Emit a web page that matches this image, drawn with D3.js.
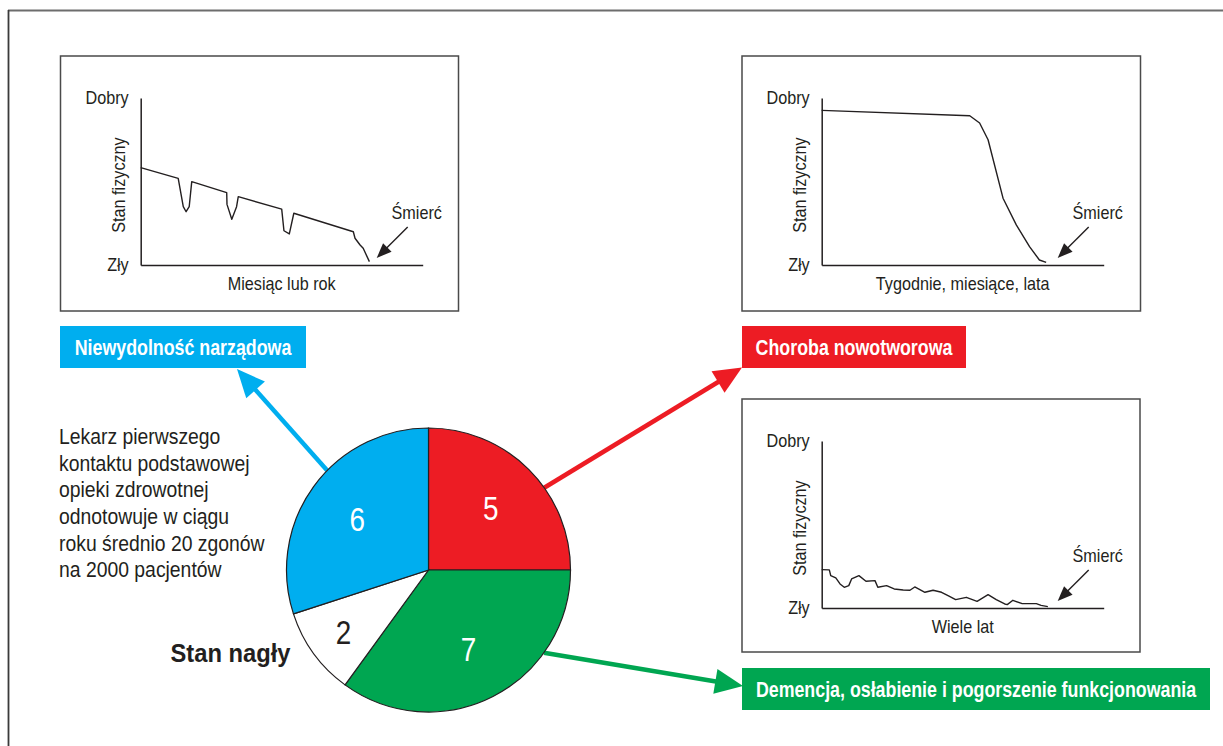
<!DOCTYPE html>
<html>
<head>
<meta charset="utf-8">
<script src="https://cdn.jsdelivr.net/npm/d3@7/dist/d3.min.js"></script>
<style>
  html, body { margin: 0; padding: 0; background: #ffffff; }
  svg { display: block; }
</style>
</head>
<body>
<div id="chart"></div>
<script>
// ---------------- DATA ----------------
// Pie: deaths per year per 2000 patients by trajectory
const pieCategories = ["Choroba nowotworowa", "Demencja, osłabienie i pogorszenie funkcjonowania", "Stan nagły", "Niewydolność narządowa"];
const pieValues = [5, 7, 2, 6];
const pieColors = ["#ed1c24", "#00a651", "#ffffff", "#00aeef"];

// Trajectory curves (time 0-100, physical state 0-100)
const organTime  = [0, 13.3, 15.1, 16.1, 17.2, 18.1, 30.5, 30.6, 32.3, 34.0, 34.6, 50.0, 50.8, 52.7, 54.3, 75.4, 76.0, 77.8, 78.9, 81.1];
const organState = [58.3, 51.9, 34.9, 31.9, 34.9, 49.9, 43.3, 36.3, 27.4, 34.9, 40.9, 33.5, 20.5, 18.6, 31.0, 19.9, 16.0, 12.0, 10.0, 2.0];

const cancerTime  = [0, 52.5, 56.0, 59.0, 64.3, 69.0, 73.7, 77.2, 79.6];
const cancerState = [92.6, 89.4, 85.0, 75.0, 40.0, 24.0, 11.0, 3.0, 1.6];

const frailtyTime  = [0, 2.7, 3.2, 5.0, 6.5, 8.0, 9.6, 10.6, 13.2, 15.7, 18.9, 19.9, 23.0, 25.7, 28.9, 31.3, 33.0, 36.6, 39.5, 42.5, 44.8, 47.5, 51.3, 55.1, 59.0, 61.9, 64.9, 65.8, 67.8, 71.1, 76.1, 77.8, 80.2];
const frailtyState = [23, 22.8, 19.4, 18, 14.4, 12.4, 13.4, 17.4, 19.4, 16, 16.4, 12.4, 13.4, 11.4, 10.8, 10.6, 12.6, 9.4, 10.6, 9.4, 7.4, 5, 6.4, 4, 8, 5, 2.4, 2, 4.6, 2.6, 2.6, 1.6, 0.8];

const yTickValues = [0, 100];
const yTickLabels = ["Zły", "Dobry"];
const yAxisTitle = "Stan fizyczny";
const xAxisTitles = ["Miesiąc lub rok", "Tygodnie, miesiące, lata", "Wiele lat"];
const deathLabel = "Śmierć";
const noteLines = ["Lekarz pierwszego", "kontaktu podstawowej", "opieki zdrowotnej", "odnotowuje w ciągu", "roku średnio 20 zgonów", "na 2000 pacjentów"];

// ---------------- LAYOUT ----------------
const W = 1223, H = 746;
const SANS = "'Liberation Sans', Arial, Helvetica, sans-serif";
const SQ = 0.82;            // horizontal squeeze to imitate a condensed face
const INK = "#231f20";

const svg = d3.select("#chart").append("svg")
  .attr("width", W).attr("height", H)
  .attr("viewBox", `0 0 ${W} ${H}`);

// outer frame
svg.append("line").attr("x1", 8).attr("x2", W).attr("y1", 10.5).attr("y2", 10.5)
  .attr("stroke", "#6d6d6d").attr("stroke-width", 2);
svg.append("line").attr("x1", 8.5).attr("x2", 8.5).attr("y1", 10).attr("y2", H)
  .attr("stroke", "#3a3a3a").attr("stroke-width", 1.8);

const arrowLayer = svg.append("g");

// condensed text helper
function ntext(parent, x, y, str, size, opt = {}) {
  const g = parent.append("g").attr("transform", `translate(${x},${y})${opt.rotate ? ` rotate(${opt.rotate})` : ""} scale(${opt.sq || SQ},1)`);
  return g.append("text")
    .attr("text-anchor", opt.anchor || "start")
    .attr("dy", opt.dy || null)
    .attr("font-family", SANS).attr("font-size", size)
    .attr("font-weight", opt.bold ? "bold" : null)
    .attr("fill", opt.fill || INK)
    .text(str);
}

function arrow(g, x1, y1, x2, y2, color, width, headLen, headW) {
  const dx = x2 - x1, dy = y2 - y1, len = Math.hypot(dx, dy);
  const ux = dx / len, uy = dy / len, px = -uy, py = ux;
  const bx = x2 - ux * headLen, by = y2 - uy * headLen;
  g.append("line").attr("x1", x1).attr("y1", y1).attr("x2", bx + ux * 2).attr("y2", by + uy * 2)
    .attr("stroke", color).attr("stroke-width", width);
  g.append("polygon")
    .attr("points", [[x2, y2], [bx + px * headW / 2, by + py * headW / 2], [bx - px * headW / 2, by - py * headW / 2]].map(p => p.join(",")).join(" "))
    .attr("fill", color);
}

// ---------------- TRAJECTORY PANELS ----------------
const panels = [
  { box: [60.5, 56, 398, 255], ox: 140.7, oy: 265, title: xAxisTitles[0], t: organTime, s: organState },
  { box: [742, 56, 398.5, 255], ox: 821.7, oy: 265, title: xAxisTitles[1], t: cancerTime, s: cancerState },
  { box: [742, 399, 398, 253], ox: 821.7, oy: 608, title: xAxisTitles[2], t: frailtyTime, s: frailtyState }
];
const axisW = 282, axisH = 167;
const PF = 18, PSQ = 0.9;

panels.forEach(p => {
  const g = svg.append("g");
  g.append("rect").attr("x", p.box[0]).attr("y", p.box[1]).attr("width", p.box[2]).attr("height", p.box[3])
    .attr("fill", "#fff").attr("stroke", "#4a4a4a").attr("stroke-width", 1.5);

  const x = d3.scaleLinear().domain([0, 100]).range([p.ox, p.ox + axisW]);
  const y = d3.scaleLinear().domain([0, 100]).range([p.oy, p.oy - axisH]);

  const ya = g.append("g").attr("transform", `translate(${p.ox},0)`)
    .call(d3.axisLeft(y).tickValues(yTickValues).tickSize(0).tickSizeOuter(0).tickPadding(12)
      .tickFormat((d, i) => yTickLabels[i]));
  ya.select(".domain").attr("stroke", INK).attr("stroke-width", 1.5);
  ya.selectAll(".tick text")
    .attr("font-family", SANS).attr("font-size", PF).attr("fill", INK)
    .attr("x", -12 / PSQ).attr("transform", `scale(${PSQ},1)`);

  const xa = g.append("g").attr("transform", `translate(0,${p.oy})`)
    .call(d3.axisBottom(x).tickValues([]).tickSizeOuter(0));
  xa.select(".domain").attr("stroke", INK).attr("stroke-width", 1.5);

  ntext(g, (x.range()[0] + x.range()[1]) / 2, p.oy + 25, p.title, PF, { anchor: "middle", sq: PSQ });
  ntext(g, p.ox - 16, p.oy - 80, yAxisTitle, PF, { anchor: "middle", rotate: -90, sq: PSQ });

  const pts = p.t.map((t, i) => [t, p.s[i]]);
  g.append("path").datum(pts)
    .attr("d", d3.line().x(d => x(d[0])).y(d => y(d[1])))
    .attr("fill", "none").attr("stroke", INK).attr("stroke-width", 1.4).attr("stroke-linejoin", "round");

  ntext(g, p.ox + 276, p.oy - 46, deathLabel, PF, { anchor: "middle", sq: PSQ });
  arrow(g, p.ox + 267, p.oy - 38, p.ox + 236, p.oy - 7, INK, 1.4, 15, 12);
});

// ---------------- PIE ----------------
const cx = 428.5, cy = 570, r = 142;
const pie = d3.pie().sort(null).value(d => d)(pieValues);
const arc = d3.arc().innerRadius(0).outerRadius(r);
const pg = svg.append("g").attr("transform", `translate(${cx},${cy})`);

function edge(angleDeg) {
  const a = angleDeg * Math.PI / 180;
  return [cx + Math.sin(a) * r, cy - Math.cos(a) * r];
}

pg.selectAll("path").data(pie).join("path")
  .attr("d", arc)
  .attr("fill", (d, i) => pieColors[i])
  .attr("stroke", INK).attr("stroke-width", 1.2);

pie.forEach((d, i) => {
  const lr = r * (d.value < 3 ? 0.74 : 0.62);
  const c = d3.arc().innerRadius(lr).outerRadius(lr).centroid(d);
  ntext(pg, c[0], c[1], String(d.value), 34, {
    anchor: "middle", dy: "0.36em",
    fill: pieColors[i] === "#ffffff" ? INK : "#ffffff"
  });
});

// category boxes
const boxes = [
  { i: 3, x: 60, y: 326, w: 246, h: 42 },
  { i: 0, x: 742, y: 326, w: 224, h: 42 },
  { i: 1, x: 742, y: 668, w: 468, h: 42 }
];
boxes.forEach(b => {
  svg.append("rect").attr("x", b.x).attr("y", b.y).attr("width", b.w).attr("height", b.h)
    .attr("fill", pieColors[b.i]);
  ntext(svg, b.x + b.w / 2, b.y + b.h / 2, pieCategories[b.i], 22, {
    anchor: "middle", dy: "0.36em", bold: true, fill: "#ffffff", sq: 0.81
  });
});

// arrows from pie to boxes
const conn = [
  { i: 3, ang: 314.5, tx: 237, ty: 369 },
  { i: 0, ang: 54.6, tx: 742, ty: 367.5 },
  { i: 1, ang: 125.6, tx: 743, ty: 686 }
];
conn.forEach(c => {
  const s = edge(c.ang);
  arrow(arrowLayer, s[0], s[1], c.tx, c.ty, pieColors[c.i], 4.5, 28, 25);
});

// "Stan nagły" label
ntext(svg, 170.5, 662, pieCategories[2], 25, { bold: true, sq: 0.95 });

// note text
const ng = svg.append("g").attr("transform", `translate(59,0) scale(0.88,1)`);
ng.append("text").attr("font-family", SANS).attr("font-size", 22).attr("fill", INK)
  .selectAll("tspan").data(noteLines).join("tspan")
  .attr("x", 0).attr("y", (d, i) => 444 + i * 26.7)
  .text(d => d);
</script>
</body>
</html>
